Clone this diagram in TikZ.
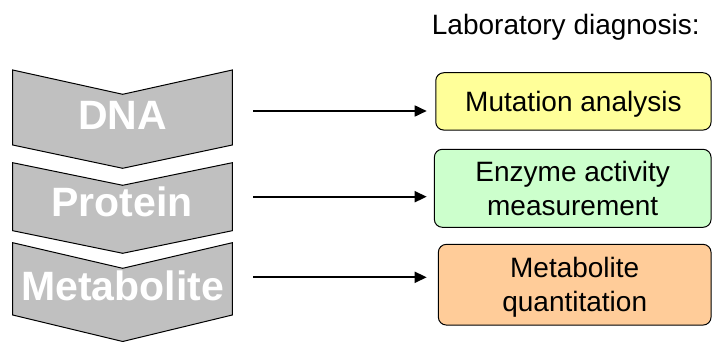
\documentclass[tikz,border=0pt]{standalone}
\usepackage{fontspec}
\setmainfont{Liberation Sans}
\usetikzlibrary{arrows.meta}
\definecolor{chevgray}{HTML}{C0C0C0}
\definecolor{boxyellow}{HTML}{FFFF99}
\definecolor{boxgreen}{HTML}{CCFFCC}
\definecolor{boxorange}{HTML}{FFCC99}
\tikzset{
  chevron/.style={draw=black, line width=1pt, fill=chevgray, line join=miter},
  chevlabel/.style={anchor=base, inner sep=0pt, text=white,
    font=\fontsize{41}{48}\selectfont\bfseries},
  resultbox/.style={draw=black, line width=1pt, rounded corners=8pt,
    inner sep=0pt, align=center, text depth=0pt,
    font=\fontsize{28}{34}\selectfont},
  linkarrow/.style={line width=1.7pt, -{Triangle[length=12pt,width=11pt]}},
}
\begin{document}
\begin{tikzpicture}[x=1pt,y=-1pt]
\useasboundingbox (0,0) rectangle (712,342);

% heading
\node[anchor=base west, inner sep=0pt, font=\fontsize{28}{34}\selectfont]
  (head) at (431.7,35) {Laboratory diagnosis:};

% chevrons
\draw[chevron] (12.7,70) -- (122.7,94.3) -- (232.3,70) -- (232.3,145)
  -- (122.7,168.3) -- (12.7,145) -- cycle;
\draw[chevron] (12.7,162.7) -- (122.7,185.3) -- (232.3,162.7) -- (232.3,230.7)
  -- (122.7,253.3) -- (12.7,230.7) -- cycle;
\draw[chevron] (12.7,242.7) -- (122.7,268.3) -- (232.3,242.7) -- (232.3,315)
  -- (122.7,341.5) -- (12.7,315) -- cycle;

\node[chevlabel] (dna) at (122.5,130) {DNA};
\node[chevlabel] (prot) at (122,216.7) {Protein};
\node[chevlabel] (meta) at (122.5,300.7) {Metabolite};

% result boxes
\node[resultbox, fill=boxyellow, minimum width=275.3pt, minimum height=57.3pt]
  (mut) at (573.4,101.4) {Mutation analysis};
\node[resultbox, fill=boxgreen, minimum width=276.7pt, minimum height=78pt]
  (enz) at (572.7,188.3) {Enzyme activity\\measurement};
\node[resultbox, fill=boxorange, minimum width=272.7pt, minimum height=80.7pt]
  (quant) at (574.7,284.7) {Metabolite\\quantitation};

% arrows
\coordinate (s1) at (253.3,111);
\coordinate (e1) at (426.7,111);
\coordinate (s2) at (253.3,196.7);
\coordinate (e2) at (426.7,196.7);
\coordinate (s3) at (253.3,277.3);
\coordinate (e3) at (426.7,277.3);
\draw[linkarrow] (s1) -- (e1);
\draw[linkarrow] (s2) -- (e2);
\draw[linkarrow] (s3) -- (e3);
\end{tikzpicture}
\end{document}
